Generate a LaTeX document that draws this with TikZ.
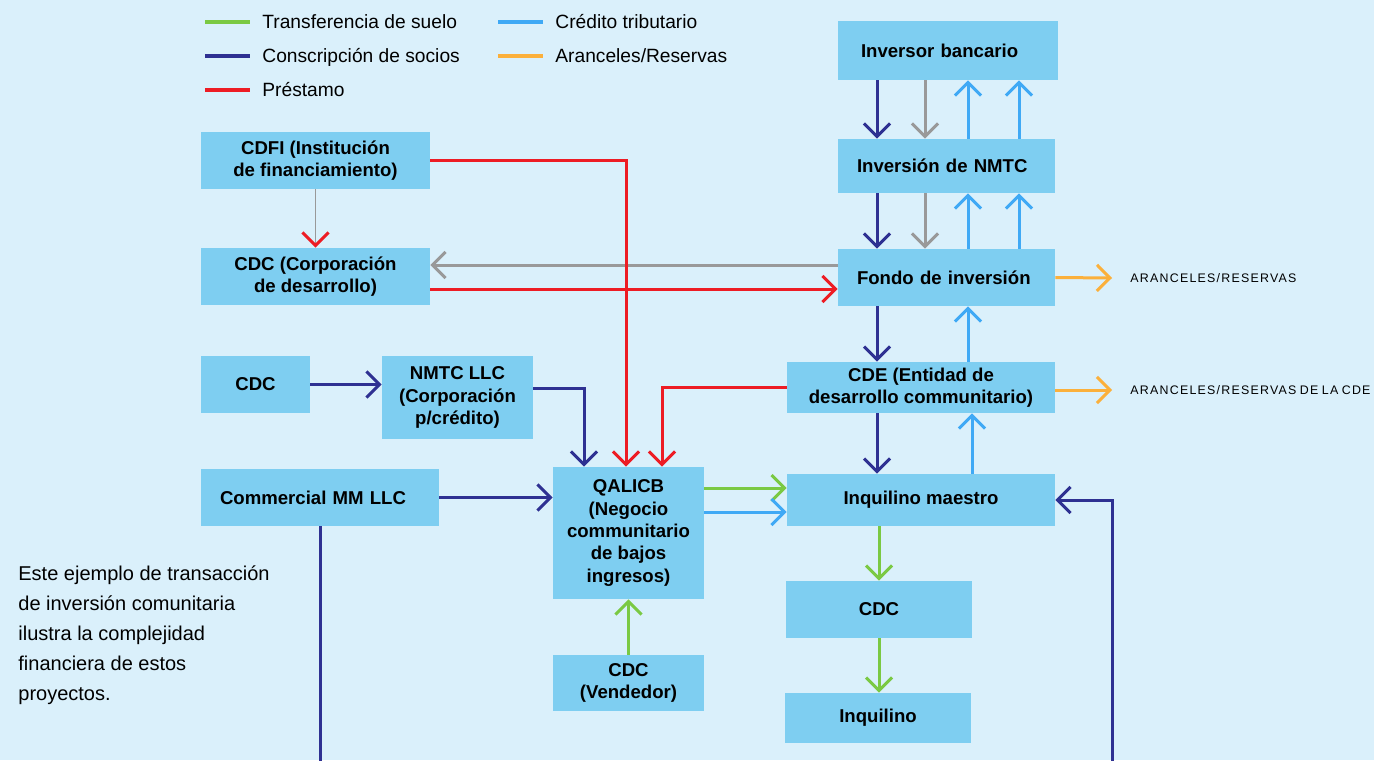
\documentclass[tikz,border=0pt]{standalone}
\usepackage{fontspec}
\setmainfont{Liberation Sans}
\newfontfamily\feefont{Liberation Sans}[LetterSpace=10, WordSpace=0.75]
\usetikzlibrary{positioning,arrows.meta,calc}

\definecolor{bgblue}{HTML}{DAF0FB}
\definecolor{boxblue}{HTML}{7ECEF1}
\definecolor{navy}{HTML}{2E3192}
\definecolor{loanred}{HTML}{ED1C24}
\definecolor{landgreen}{HTML}{7AC943}
\definecolor{creditblue}{HTML}{3FA9F5}
\definecolor{feeorange}{HTML}{FBB03B}
\definecolor{flowgray}{HTML}{999999}

\begin{document}
\begin{tikzpicture}[
  x=0.5pt, y=-0.5pt,
  font=\fontsize{9.3}{11.2}\selectfont,
  >={Straight Barb[length=6.5pt, width=13pt]},
  box/.style={fill=boxblue, align=center, inner sep=1pt,
              font=\fontsize{9.3}{11.2}\selectfont\bfseries},
  lbox/.style={box, align=left, inner ysep=1pt},
  arr/.style={->, line width=1.5pt},
  key/.style={line width=1.6pt},
  legtext/.style={anchor=base west, inner sep=0pt, font=\fontsize{9.6}{11}\selectfont},
  fee/.style={anchor=west, inner xsep=9pt, font=\feefont\fontsize{6.2}{7}\selectfont},
]
\useasboundingbox (0,0) rectangle (1374,760);
\fill[bgblue] (0,0) rectangle (1374,760);

%% ---------- legend ----------
\node[legtext] (leg1) at (262,28) {Transferencia de suelo};
\node[legtext] (leg2) at (262,62) {Conscripción de socios};
\node[legtext] (leg3) at (262,96) {Préstamo};
\node[legtext] (leg4) at (555,28) {Crédito tributario};
\node[legtext] (leg5) at (555,62) {Aranceles/Reservas};
\draw[key, landgreen]  ([shift={(-28.5pt,3pt)}]leg1.base west) -- ([shift={(-6pt,3pt)}]leg1.base west);
\draw[key, navy]       ([shift={(-28.5pt,3pt)}]leg2.base west) -- ([shift={(-6pt,3pt)}]leg2.base west);
\draw[key, loanred]    ([shift={(-28.5pt,3pt)}]leg3.base west) -- ([shift={(-6pt,3pt)}]leg3.base west);
\draw[key, creditblue] ([shift={(-28.5pt,3pt)}]leg4.base west) -- ([shift={(-6pt,3pt)}]leg4.base west);
\draw[key, feeorange]  ([shift={(-28.5pt,3pt)}]leg5.base west) -- ([shift={(-6pt,3pt)}]leg5.base west);

%% ---------- left column ----------
\node[box, minimum width=114.5pt, minimum height=28.5pt] (cdfi) at (315.5,160.5)
  {CDFI (Institución\\ de financiamiento)};
\node[box, minimum width=114.5pt, minimum height=28.5pt] (cdccorp) at (315.5,276.5)
  {CDC (Corporación\\ de desarrollo)};
\node[box, minimum width=54.5pt, minimum height=28.5pt] (cdcsponsor) at (255.5,384.5) {CDC};
\node[box, minimum width=75.5pt, minimum height=41.5pt] (nmtcllc) at (457.5,397.5)
  {NMTC LLC\\ (Corporación\\ p/crédito)};
\node[lbox, text width=100pt, inner xsep=9.5pt, minimum height=28.5pt] (cmm) at (320,497.5)
  {Commercial MM LLC};

%% ---------- project column ----------
\node[box, minimum width=75.5pt, minimum height=66pt] (qalicb) at (628.5,533)
  {QALICB\\ (Negocio\\ communitario\\ de bajos\\ ingresos)};
\node[box, minimum width=75.5pt, minimum height=28pt] (seller) at (628.5,683)
  {CDC\\ (Vendedor)};

%% ---------- investor column ----------
\node[lbox, text width=87pt, inner xsep=11.5pt, minimum height=29.5pt] (bank) at (948,50.5)
  {Inversor bancario};
\node[lbox, text width=89.5pt, inner xsep=9.5pt, minimum height=27pt] (nmtcinv) at (946.5,166)
  {Inversión de NMTC};
\node[lbox, text width=89.5pt, inner xsep=9.5pt, minimum height=28.5pt] (fund) at (946.5,277.5)
  {Fondo de inversión};
\node[box, minimum width=134pt, minimum height=25.5pt] (cde) at (921,387.5)
  {CDE (Entidad de\\ desarrollo communitario)};
\node[box, minimum width=134pt, minimum height=26pt] (master) at (921,500) {Inquilino maestro};
\node[box, minimum width=93pt, minimum height=28.5pt] (cdclease) at (879,609.5) {CDC};
\node[box, minimum width=93pt, minimum height=25pt] (tenant) at (878,718) {Inquilino};

\node[fee] (fees) at (1112,278) {ARANCELES/RESERVAS};
\node[fee] (cdefees) at (1112,390) {ARANCELES/RESERVAS DE LA CDE};

%% side note
\node[anchor=north west, align=left, inner sep=0pt,
      font=\fontsize{10}{15}\selectfont] (note) at (18,565)
  {Este ejemplo de transacción\\ de inversión comunitaria\\ ilustra la complejidad\\
   financiera de estos\\ proyectos.};

%% lanes of the vertical connectors
\coordinate (lnavy) at (877,0);
\coordinate (lgray) at (925,0);
\coordinate (lcred) at (968,0);
\coordinate (lcredb) at (1019,0);
\coordinate (lcredc) at (972,0);
\coordinate (lloan) at (626,0);
\coordinate (lloanb) at (662,0);
\coordinate (lllc) at (584,0);
%% rows of the horizontal connectors
\coordinate (rback) at (0,265);
\coordinate (rloan) at (0,289);
\coordinate (rllc) at (0,388);
\coordinate (rland) at (0,488);
\coordinate (rcred) at (0,512);

%% ---------- investor chain ----------
\draw[arr, navy] (bank.south -| lnavy) -- (nmtcinv.north -| lnavy);
\draw[arr, flowgray] (bank.south -| lgray) -- (nmtcinv.north -| lgray);
\draw[arr, creditblue] (nmtcinv.north -| lcred) -- (bank.south -| lcred);
\draw[arr, creditblue] (nmtcinv.north -| lcredb) -- (bank.south -| lcredb);

\draw[arr, navy] (nmtcinv.south -| lnavy) -- (fund.north -| lnavy);
\draw[arr, flowgray] (nmtcinv.south -| lgray) -- (fund.north -| lgray);
\draw[arr, creditblue] (fund.north -| lcred) -- (nmtcinv.south -| lcred);
\draw[arr, creditblue] (fund.north -| lcredb) -- (nmtcinv.south -| lcredb);

\draw[arr, navy] (fund.south -| lnavy) -- (cde.north -| lnavy);
\draw[arr, creditblue] (cde.north -| lcred) -- (fund.south -| lcred);
\draw[arr, navy] (cde.south -| lnavy) -- (master.north -| lnavy);
\draw[arr, creditblue] (master.north -| lcredc) -- (cde.south -| lcredc);

\draw[arr, feeorange] (fund.east) -- (fees.west);
\draw[arr, feeorange] (cde.east |- cdefees.west) -- (cdefees.west);

%% ---------- loans ----------
\draw[flowgray, line width=0.5pt,
      -{Straight Barb[length=6.5pt, width=13pt, color=loanred, line width=1.5pt]}]
  (cdfi) -- (cdccorp);
\draw[arr, flowgray] (fund.west |- rback) -- (cdccorp.east |- rback);
\draw[arr, loanred] (cdccorp.east |- rloan) -- (fund.west |- rloan);
\draw[arr, loanred] (cdfi.east) -| (qalicb.north -| lloan);
\draw[arr, loanred] (cde.west) -| (qalicb.north -| lloanb);

%% ---------- partners into the QALICB ----------
\draw[arr, navy] (cdcsponsor.east) -- (nmtcllc.west |- cdcsponsor.east);
\draw[arr, navy] (nmtcllc.east |- rllc) -| (qalicb.north -| lllc);
\draw[arr, navy] (cmm.east) -- (qalicb.west |- cmm.east);
\draw[arr, landgreen] (seller) -- (qalicb);

%% ---------- lease chain ----------
\draw[arr, landgreen] (qalicb.east |- rland) -- (master.west |- rland);
\draw[arr, creditblue] (qalicb.east |- rcred) -- (master.west |- rcred);
\draw[arr, landgreen] (master.south -| cdclease) -- (cdclease);
\draw[arr, landgreen] (cdclease.south) -- (tenant.north -| cdclease.south);

%% partner loop runs below the frame
\begin{scope}
  \clip (0,0) rectangle (1374,760);
  \coordinate (loop) at (1112,800);
  \draw[arr, navy] (cmm.south) -- (cmm.south |- loop) -- (loop) |- (master.east);
\end{scope}

\end{tikzpicture}
\end{document}
